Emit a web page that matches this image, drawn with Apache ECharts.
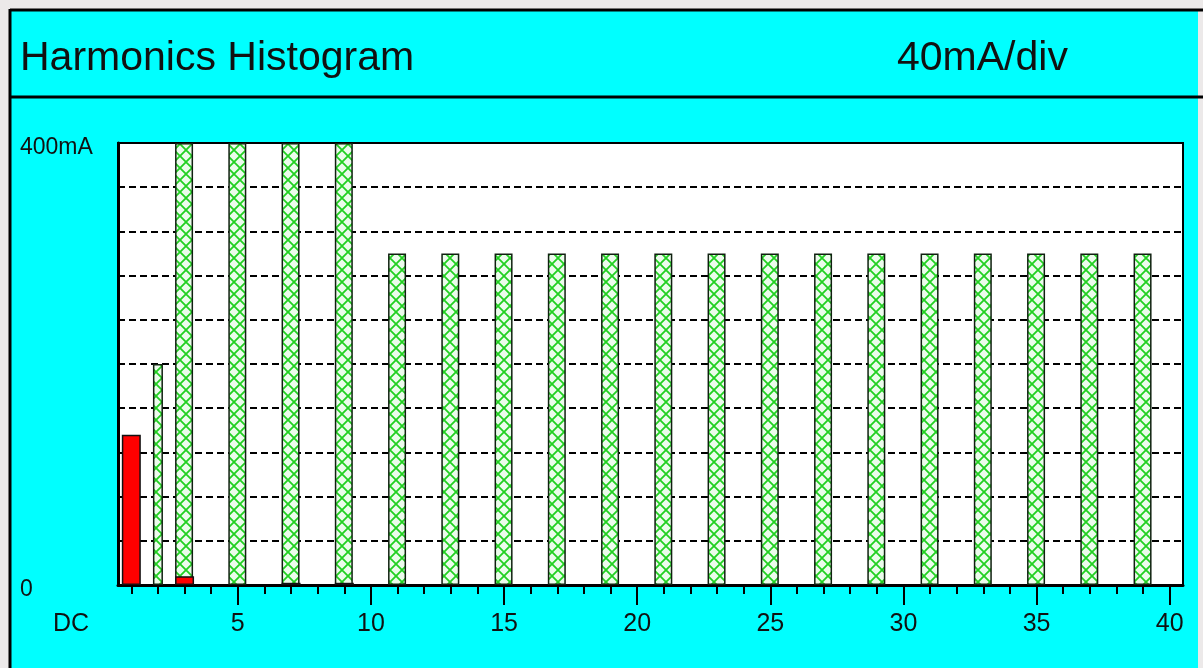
<!DOCTYPE html>
<html>
<head>
<meta charset="utf-8">
<script src="https://cdn.jsdelivr.net/npm/echarts@6/dist/echarts.min.js"></script>
<style>
html,body{margin:0;padding:0;background:#ece9e9;}
#chart{width:1203px;height:668px;}
</style>
</head>
<body>
<div id="chart"></div>
<script>
// ---- data ----
const harmonics = ['1','2','3','4','5','6','7','8','9','10','11','12','13','14','15','16','17','18','19','20',
                   '21','22','23','24','25','26','27','28','29','30','31','32','33','34','35','36','37','38','39','40'];
// limit (hatched green) values in mA, per harmonic 1..40
const limitValues = [null,null,400,null,400,null,400,null,400,null,
                     300,null,300,null,300,null,300,null,300,null,
                     300,null,300,null,300,null,300,null,300,null,
                     300,null,300,null,300,null,300,null,300,null];
// narrow limit bar (2nd harmonic)
const narrowLimitValues = [null,200,null,null,null,null,null,null,null,null,
                           null,null,null,null,null,null,null,null,null,null,
                           null,null,null,null,null,null,null,null,null,null,
                           null,null,null,null,null,null,null,null,null,null];
// measured (red) values in mA
const measuredValues = [136,null,8,null,null,null,2,null,2,null,
                        null,null,null,null,null,null,null,null,null,null,
                        null,null,null,null,null,null,null,null,null,null,
                        null,null,null,null,null,null,null,null,null,null];
const yTickLabels = {0:'0', 400:'400mA'};
const titleText = 'Harmonics Histogram';
const scaleText = '40mA/div';
const dcLabel = 'DC';

// ---- hatch pattern ----
const pc = document.createElement('canvas');
pc.width = 12; pc.height = 12;
const c = pc.getContext('2d');
c.fillStyle = '#ecfcec'; c.fillRect(0,0,12,12);
c.strokeStyle = '#22d022'; c.lineWidth = 1.8;
c.beginPath(); c.moveTo(0,0); c.lineTo(12,12); c.moveTo(12,0); c.lineTo(0,12); c.stroke();
const hatch = {image: pc, repeat: 'repeat'};

const FONT = '"Liberation Sans", Arial, sans-serif';
const chart = echarts.init(document.getElementById('chart'));
chart.setOption({
  backgroundColor: '#ece9e9',
  animation: false,
  graphic: [
    {type:'rect', z:-10, silent:true, shape:{x:10,y:10,width:1188,height:720},
     style:{fill:'#00ffff'}},
    {type:'line', z:-9, silent:true, shape:{x1:10,y1:10,x2:1203,y2:10}, style:{stroke:'#000', lineWidth:3}},
    {type:'line', z:-9, silent:true, shape:{x1:10,y1:9,x2:10,y2:668}, style:{stroke:'#000', lineWidth:3}},
    {type:'line', z:-9, silent:true, shape:{x1:10,y1:97,x2:1203,y2:97}, style:{stroke:'#000', lineWidth:3}},
    {type:'text', x:20, y:59, style:{text:titleText, font:'41px '+FONT, fill:'#111', verticalAlign:'middle'}},
    {type:'text', x:897, y:59, style:{text:scaleText, font:'41px '+FONT, fill:'#111', verticalAlign:'middle'}},
    {type:'text', x:53, y:624, style:{text:dcLabel, font:'25px '+FONT, fill:'#111', verticalAlign:'middle'}}
  ],
  grid: {left:118, right:20, top:143, bottom:83, show:true, backgroundColor:'#ffffff', borderColor:'#000', borderWidth:2},
  xAxis: [
    {type:'category', data:harmonics, position:'bottom',
     axisLine:{show:true, lineStyle:{color:'#000', width:3}},
     axisTick:{show:true, alignWithLabel:true, length:9, interval:0, lineStyle:{color:'#000', width:2}},
     axisLabel:{show:false}, splitLine:{show:false}},
    {type:'category', data:harmonics, position:'bottom',
     axisLine:{show:false},
     axisTick:{show:true, alignWithLabel:true, length:20, interval:(i)=> (i+1)%5===0, lineStyle:{color:'#000', width:2}},
     axisLabel:{show:true, interval:(i)=> (i+1)%5===0, margin:27, fontSize:25, fontFamily:FONT, color:'#111'},
     splitLine:{show:false}}
  ],
  yAxis: {type:'value', min:0, max:400, interval:40,
    axisLine:{show:true, lineStyle:{color:'#000', width:3}},
    axisTick:{show:false},
    axisLabel:{show:true, align:'left', margin:98, fontSize:23, fontFamily:FONT, color:'#111',
               verticalAlign:'top', lineHeight:9,
               formatter:(v)=> yTickLabels[v] !== undefined ? yTickLabels[v] : ''},
    splitLine:{show:true, lineStyle:{color:'#000', width:2, type:[7,4]}}
  },
  series: [
    {name:'Limit', type:'bar', xAxisIndex:0, data:limitValues, barWidth:18, barGap:'-100%',
     itemStyle:{color:hatch, borderColor:'#102010', borderWidth:1.5}},
    {name:'Measured', type:'bar', xAxisIndex:0, data:measuredValues, barWidth:19, barGap:'-100%',
     itemStyle:{color:'#ff0000', borderColor:'#111', borderWidth:1.5}},
    {name:'Limit2', type:'bar', xAxisIndex:1, data:narrowLimitValues, barWidth:10,
     itemStyle:{color:hatch, borderColor:'#102010', borderWidth:1.5}}
  ]
});
</script>
</body>
</html>
